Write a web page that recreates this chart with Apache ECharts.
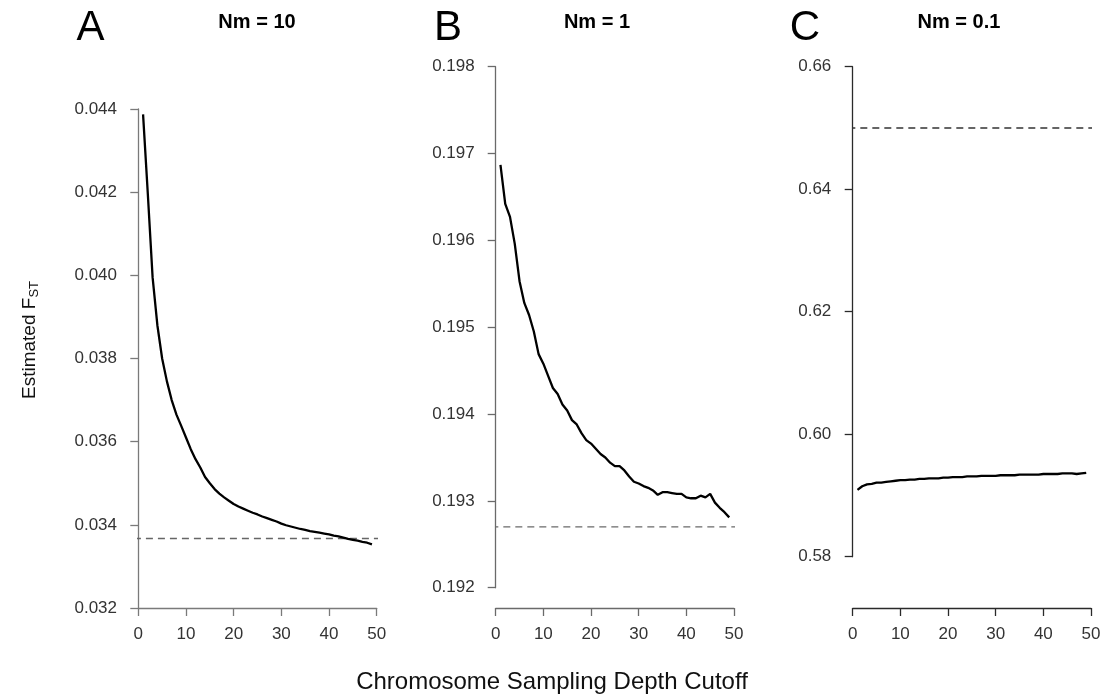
<!DOCTYPE html>
<html>
<head>
<meta charset="utf-8">
<script src="https://cdn.jsdelivr.net/npm/echarts@6/dist/echarts.min.js"></script>
<style>
html,body{margin:0;padding:0;background:#fff;}
#chart{width:1104px;height:700px;}
</style>
</head>
<body>
<div id="chart"></div>
<script>
// ---- data ----
const depthCutoff = [1,2,3,4,5,6,7,8,9,10,11,12,13,14,15,16,17,18,19,20,21,22,23,24,25,26,27,28,29,30,31,32,33,34,35,36,37,38,39,40,41,42,43,44,45,46,47,48,49];

const fstNm10 = [0.04387,0.04195,0.03995,0.03880,0.03800,0.03745,0.03700,0.03665,0.03638,0.03610,
  0.03582,0.03558,0.03538,0.03515,0.03500,0.03486,0.03475,0.03466,0.03458,0.03450,
  0.03444,0.03439,0.03434,0.03429,0.03425,0.03420,0.03416,0.03412,0.03408,0.03403,
  0.03399,0.03396,0.03393,0.03390,0.03388,0.03385,0.03383,0.03381,0.03379,0.03377,
  0.03374,0.03372,0.03369,0.03366,0.03364,0.03362,0.03359,0.03357,0.03353];

const fstNm1 = [0.19687,0.19642,0.19627,0.19596,0.19553,0.19528,0.19514,0.19495,0.19469,0.19458,
  0.19444,0.19430,0.19423,0.19411,0.19404,0.19393,0.19388,0.19378,0.19370,0.19366,
  0.19360,0.19354,0.19350,0.19344,0.19340,0.19340,0.19335,0.19328,0.19322,0.19320,
  0.19317,0.19315,0.19312,0.19307,0.19310,0.19310,0.19309,0.19308,0.19308,0.19304,
  0.19303,0.19303,0.19306,0.19304,0.19308,0.19298,0.19292,0.19287,0.19281];

const fstNm01 = [0.5909,0.5915,0.5918,0.5919,0.5921,0.5921,0.5922,0.5923,0.5924,0.5925,
  0.5925,0.5926,0.5926,0.5927,0.5927,0.5928,0.5928,0.5928,0.5929,0.5929,
  0.5930,0.5930,0.5930,0.5931,0.5931,0.5931,0.5932,0.5932,0.5932,0.5932,
  0.5933,0.5933,0.5933,0.5933,0.5934,0.5934,0.5934,0.5934,0.5934,0.5935,
  0.5935,0.5935,0.5935,0.5936,0.5936,0.5936,0.5935,0.5936,0.5937];

const expectedFst = [0.03367, 0.19270, 0.6500];
const panelLetters = ['A', 'B', 'C'];
const panelTitles = ['Nm = 10', 'Nm = 1', 'Nm = 0.1'];
const yMin = [0.032, 0.192, 0.58];
const yMax = [0.044, 0.198, 0.66];
const yStep = [0.002, 0.001, 0.02];
const yDecimals = [3, 3, 2];
const xTicks = [0, 10, 20, 30, 40, 50];
const xLabel = 'Chromosome Sampling Depth Cutoff';

// ---- layout ----
const FONT = '"Liberation Sans", Arial, Helvetica, sans-serif';
const seriesData = [fstNm10, fstNm1, fstNm01];
const grids = [
  {left: 138.3, right: 727.3, top: 109, bottom: 92},
  {left: 495.7, right: 370, top: 66.7, bottom: 112.3},
  {left: 852.7, right: 13, top: 66.7, bottom: 143.3}
];
const xOffsets = [0, 20.3, 51.3];
const yOffsets = [4.3, 4, 4.4];
const axisColors = ['#7a7a7a', '#6a6a6a', '#2a2a2a'];
const dashColors = ['#666666', '#6a6a6a', '#333333'];

const xFirst = depthCutoff[0], xLast = depthCutoff[depthCutoff.length - 1];
const xPadL = xFirst - 0.04 * (xLast - xFirst);
const xPadR = xLast + 0.04 * (xLast - xFirst);

const chart = echarts.init(document.getElementById('chart'), null, {renderer: 'canvas'});

const xAxes = [], yAxes = [], series = [];
for (let i = 0; i < 3; i++) {
  xAxes.push({
    type: 'value', gridIndex: i, min: xTicks[0], max: xTicks[xTicks.length - 1], interval: 10,
    offset: xOffsets[i],
    axisLine: {show: true, lineStyle: {color: axisColors[i], width: 1.3}},
    axisTick: {show: true, length: 8, lineStyle: {color: axisColors[i], width: 1.3}},
    axisLabel: {show: true, margin: 18, color: '#333', fontSize: 17, fontFamily: FONT},
    splitLine: {show: false}
  });
  yAxes.push({
    type: 'value', gridIndex: i, min: yMin[i], max: yMax[i], interval: yStep[i],
    offset: yOffsets[i],
    axisLine: {show: true, lineStyle: {color: axisColors[i], width: 1.3}},
    axisTick: {show: true, length: 8, lineStyle: {color: axisColors[i], width: 1.3}},
    axisLabel: {show: true, margin: 17, color: '#333', fontSize: 17, fontFamily: FONT,
      formatter: (v) => v.toFixed(yDecimals[i])},
    splitLine: {show: false}
  });
  series.push({
    type: 'line', xAxisIndex: i, yAxisIndex: i,
    data: depthCutoff.map((d, k) => [d, seriesData[i][k]]),
    showSymbol: false, symbol: 'none', smooth: false,
    lineStyle: {color: '#000', width: 2.3},
    z: 5
  });
  series.push({
    type: 'line', xAxisIndex: i, yAxisIndex: i,
    data: [[xPadL, expectedFst[i]], [xPadR, expectedFst[i]]],
    showSymbol: false, symbol: 'none', clip: false,
    lineStyle: {color: dashColors[i], width: 1.4, type: [7, 5]},
    z: 4
  });
}

const letterX = [90.5, 448, 805];
const titleX = [257, 597, 959];
const graphics = [];
for (let i = 0; i < 3; i++) {
  graphics.push({type: 'text', x: letterX[i], y: 28,
    style: {text: panelLetters[i], font: '42px ' + FONT, fill: '#000', textAlign: 'center', textVerticalAlign: 'middle'}});
  graphics.push({type: 'text', x: titleX[i], y: 22,
    style: {text: panelTitles[i], font: 'bold 20px ' + FONT, fill: '#000', textAlign: 'center', textVerticalAlign: 'middle'}});
}
graphics.push({type: 'text', x: 552, y: 682,
  style: {text: xLabel, font: '24px ' + FONT, fill: '#111', textAlign: 'center', textVerticalAlign: 'middle'}});
graphics.push({type: 'text', x: 30, y: 340, rotation: Math.PI / 2,
  style: {text: '{a|Estimated F}{b|ST}', textAlign: 'center', textVerticalAlign: 'middle',
    rich: {
      a: {fontSize: 19, fontFamily: FONT, fill: '#111', color: '#111'},
      b: {fontSize: 13, fontFamily: FONT, fill: '#111', color: '#111', verticalAlign: 'bottom', padding: [8, 0, 0, 0]}
    }}});

chart.setOption({
  animation: false,
  backgroundColor: '#fff',
  grid: grids,
  xAxis: xAxes,
  yAxis: yAxes,
  series: series,
  graphic: graphics
});
</script>
</body>
</html>
